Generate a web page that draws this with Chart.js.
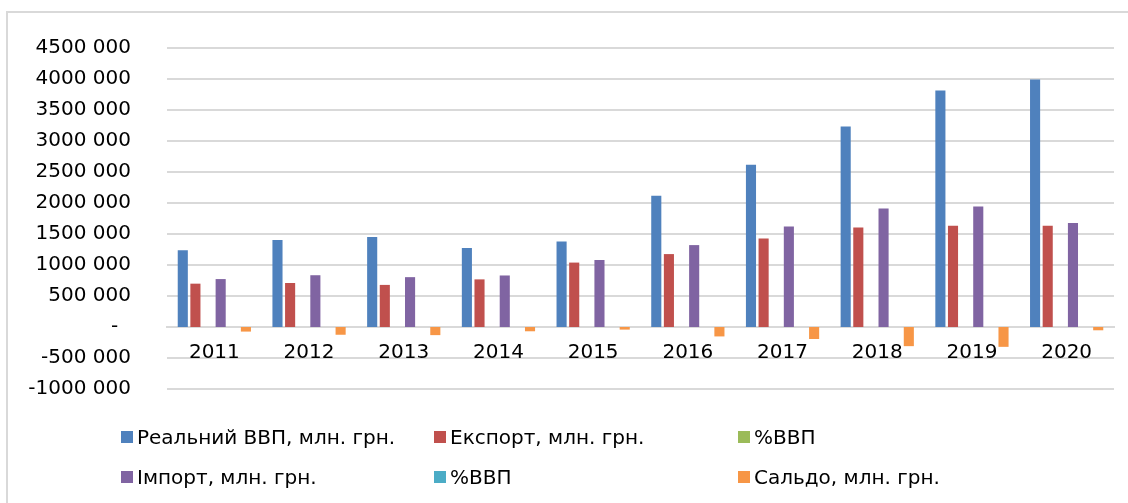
<!DOCTYPE html>
<html>
<head>
<meta charset="utf-8">
<script src="https://cdn.jsdelivr.net/npm/chart.js@4/dist/chart.umd.min.js"></script>
<style>
  html, body { margin:0; padding:0; background:#fff; }
  #wrap { position:relative; width:1128px; height:503px; overflow:hidden; background:#fff; }
  #frame { position:absolute; left:6px; top:11px; width:1140px; height:520px; border:2px solid #d9d9d9; box-sizing:border-box; }
  #c { position:absolute; left:0; top:0; }
  .lg { position:absolute; display:flex; align-items:center; font-family:"DejaVu Sans", sans-serif; font-size:20px; color:#000; white-space:nowrap; }
  .lg i { display:inline-block; width:12px; height:12px; margin-right:4px; }
</style>
</head>
<body>
<div id="wrap">
  <div id="frame"></div>
  <canvas id="c" width="1128" height="503"></canvas>
</div>
<script>
const years = ['2011','2012','2013','2014','2015','2016','2017','2018','2019','2020'];
const seriesNames = ['Реальний ВВП, млн. грн.', 'Експорт, млн. грн.', '%ВВП', 'Імпорт, млн. грн.', '%ВВП', 'Сальдо, млн. грн.'];
const seriesColors = ['#4F81BD', '#C0504D', '#9BBB59', '#8064A2', '#4BACC6', '#F79646'];

const realGdp = [1238000, 1404000, 1451000, 1274000, 1379000, 2116000, 2618000, 3234000, 3813000, 3991000];
const exportVals = [699000, 710000, 679000, 768000, 1039000, 1176000, 1426000, 1603000, 1635000, 1635000];
const exportPct = [56.5, 50.6, 46.8, 60.3, 75.3, 55.6, 54.5, 49.6, 42.9, 41.0];
const importVals = [773000, 835000, 804000, 831000, 1081000, 1321000, 1619000, 1912000, 1944000, 1677000];
const importPct = [62.4, 59.5, 55.4, 65.2, 78.4, 62.4, 61.8, 59.1, 51.0, 42.0];
const saldo = [-74000, -125000, -131000, -69000, -42000, -152000, -194000, -309000, -320000, -53000];

const yMin = -1000000, yMax = 4500000, yStep = 500000;

const seriesData = [realGdp, exportVals, exportPct, importVals, importPct, saldo];

function fmt(v) {
  if (v === 0) return '-\u2007';
  const a = Math.abs(v);
  const th = Math.floor(a / 1000);
  const rest = String(a % 1000).padStart(3, '0');
  return (v < 0 ? '-' : '') + th + ' ' + rest;
}

const font = { family: '"DejaVu Sans", sans-serif', size: 20 };
const gridColor = '#d9d9d9';

new Chart(document.getElementById('c'), {
  type: 'bar',
  data: {
    labels: years,
    datasets: seriesData.map((d, i) => ({
      label: seriesNames[i],
      data: d,
      backgroundColor: seriesColors[i],
      borderWidth: 0,
      inflateAmount: 0,
      categoryPercentage: 0.8,
      barPercentage: 0.8
    }))
  },
  options: {
    responsive: false,
    animation: false,
    layout: { padding: { left: 0, right: 14, top: 38, bottom: 114 } },
    plugins: { legend: { display: false }, tooltip: { enabled: false } },
    scales: {
      x: {
        position: { y: 0 },
        grid: { display: false, drawTicks: false },
        border: { display: true, color: gridColor, width: 2 },
        ticks: { padding: 14, font: font, color: '#000', maxRotation: 0 },
        afterFit(s) { s.height = 0; }
      },
      y: {
        min: yMin, max: yMax,
        grid: {
          color: gridColor,
          lineWidth: (c) => (c.tick && c.tick.value === 0 ? 0 : 2),
          drawTicks: false
        },
        border: { display: false },
        ticks: { stepSize: yStep, padding: 36, font: font, color: '#000', callback: (v) => fmt(v) },
        afterFit(s) { s.width = 167; }
      }
    }
  }
});

// HTML legend built from the series arrays (2 rows x 3 columns)
const colLeft = [121, 434, 738];
const rowTop = [437, 477];
const wrap = document.getElementById('wrap');
seriesNames.forEach((name, i) => {
  const el = document.createElement('div');
  el.className = 'lg';
  el.style.left = colLeft[i % 3] + 'px';
  el.style.top = (rowTop[Math.floor(i / 3)] - 13) + 'px';
  el.style.height = '26px';
  const sw = document.createElement('i');
  sw.style.background = seriesColors[i];
  el.appendChild(sw);
  el.appendChild(document.createTextNode(name));
  wrap.appendChild(el);
});
</script>
</body>
</html>
